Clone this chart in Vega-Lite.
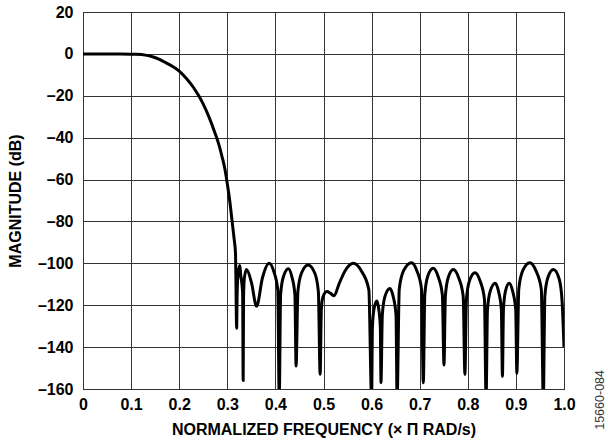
{
  "$schema": "https://vega.github.io/schema/vega-lite/v6.json",
  "width": 481,
  "height": 377,
  "autosize": {"type": "none"},
  "padding": {"left": 83, "top": 12, "right": 44, "bottom": 53},
  "background": "white",
  "title": {
    "text": "15660-084",
    "orient": "right",
    "anchor": "end",
    "frame": "group",
    "angle": 270,
    "align": "right",
    "baseline": "middle",
    "fontSize": 12.5,
    "fontWeight": "normal",
    "font": "Liberation Sans",
    "color": "#333333",
    "offset": 12,
    "dx": 19,
    "dy": 0
  },
  "config": {
    "view": {"stroke": "black", "strokeWidth": 1},
    "axis": {
      "labelFont": "Liberation Sans",
      "labelFontWeight": "bold",
      "labelFontSize": 16,
      "labelColor": "black",
      "titleFont": "Liberation Sans",
      "titleFontWeight": "bold",
      "titleFontSize": 16,
      "titleColor": "black",
      "gridColor": "#333333",
      "gridWidth": 1,
      "gridOpacity": 1,
      "tickSize": 0,
      "domain": false
    }
  },
  "data": {
    "values": [
      {"f": 0, "db": 0},
      {"f": 0.04, "db": 0},
      {"f": 0.08, "db": -0.05},
      {"f": 0.11, "db": -0.2},
      {"f": 0.13, "db": -0.6},
      {"f": 0.146, "db": -1.5},
      {"f": 0.16, "db": -2.7},
      {"f": 0.173, "db": -4.3},
      {"f": 0.187, "db": -6.1},
      {"f": 0.2, "db": -8.2},
      {"f": 0.215, "db": -11.7},
      {"f": 0.229, "db": -15.8},
      {"f": 0.24, "db": -19.8},
      {"f": 0.25, "db": -24},
      {"f": 0.262, "db": -30.2},
      {"f": 0.274, "db": -37.5},
      {"f": 0.282, "db": -43},
      {"f": 0.289, "db": -49},
      {"f": 0.295, "db": -55},
      {"f": 0.3, "db": -62},
      {"f": 0.305, "db": -70},
      {"f": 0.31, "db": -80},
      {"f": 0.314, "db": -88},
      {"f": 0.317, "db": -95},
      {"f": 0.3195, "db": -131},
      {"f": 0.3205, "db": -114},
      {"f": 0.3224, "db": -105},
      {"f": 0.326, "db": -101},
      {"f": 0.3277, "db": -105},
      {"f": 0.3319, "db": -114},
      {"f": 0.333, "db": -156},
      {"f": 0.3338, "db": -116},
      {"f": 0.3355, "db": -107},
      {"f": 0.34, "db": -103},
      {"f": 0.35, "db": -109},
      {"f": 0.361, "db": -120.5},
      {"f": 0.373, "db": -107},
      {"f": 0.387, "db": -100},
      {"f": 0.3965, "db": -103.8},
      {"f": 0.4049, "db": -112.6},
      {"f": 0.408, "db": -165},
      {"f": 0.4108, "db": -115},
      {"f": 0.4166, "db": -106.4},
      {"f": 0.427, "db": -102.6},
      {"f": 0.4342, "db": -106.4},
      {"f": 0.4406, "db": -115},
      {"f": 0.443, "db": -149},
      {"f": 0.4468, "db": -113.4},
      {"f": 0.4543, "db": -104.6},
      {"f": 0.468, "db": -100.8},
      {"f": 0.4818, "db": -104.6},
      {"f": 0.4893, "db": -113.4},
      {"f": 0.493, "db": -153},
      {"f": 0.4955, "db": -122},
      {"f": 0.499, "db": -116},
      {"f": 0.507, "db": -113.5},
      {"f": 0.514, "db": -114.2},
      {"f": 0.522, "db": -115.5},
      {"f": 0.532, "db": -110},
      {"f": 0.545, "db": -103.5},
      {"f": 0.562, "db": -100},
      {"f": 0.5791, "db": -103.8},
      {"f": 0.5943, "db": -112.6},
      {"f": 0.6, "db": -165},
      {"f": 0.6017, "db": -130.6},
      {"f": 0.605, "db": -121.8},
      {"f": 0.611, "db": -118},
      {"f": 0.6148, "db": -121.8},
      {"f": 0.6182, "db": -130.6},
      {"f": 0.6195, "db": -157},
      {"f": 0.6223, "db": -124.6},
      {"f": 0.6278, "db": -115.8},
      {"f": 0.638, "db": -112},
      {"f": 0.6448, "db": -115.8},
      {"f": 0.6508, "db": -124.6},
      {"f": 0.653, "db": -165},
      {"f": 0.6575, "db": -112.3},
      {"f": 0.6665, "db": -103.5},
      {"f": 0.683, "db": -99.7},
      {"f": 0.694, "db": -103.5},
      {"f": 0.7038, "db": -112.3},
      {"f": 0.7075, "db": -157},
      {"f": 0.7106, "db": -115},
      {"f": 0.7167, "db": -106.2},
      {"f": 0.728, "db": -102.4},
      {"f": 0.7381, "db": -106.2},
      {"f": 0.7471, "db": -115},
      {"f": 0.7505, "db": -148.5},
      {"f": 0.7534, "db": -115.6},
      {"f": 0.7593, "db": -106.8},
      {"f": 0.77, "db": -103},
      {"f": 0.7808, "db": -106.8},
      {"f": 0.7904, "db": -115.6},
      {"f": 0.794, "db": -153},
      {"f": 0.7972, "db": -117.1},
      {"f": 0.8035, "db": -108.3},
      {"f": 0.815, "db": -104.5},
      {"f": 0.8254, "db": -108.3},
      {"f": 0.8346, "db": -117.1},
      {"f": 0.838, "db": -165},
      {"f": 0.8409, "db": -122.1},
      {"f": 0.8466, "db": -113.3},
      {"f": 0.857, "db": -109.5},
      {"f": 0.8638, "db": -113.3},
      {"f": 0.8698, "db": -122.1},
      {"f": 0.872, "db": -154},
      {"f": 0.8741, "db": -122.1},
      {"f": 0.8783, "db": -113.3},
      {"f": 0.886, "db": -109.5},
      {"f": 0.8932, "db": -113.3},
      {"f": 0.8996, "db": -122.1},
      {"f": 0.902, "db": -152.5},
      {"f": 0.906, "db": -112.3},
      {"f": 0.9142, "db": -103.5},
      {"f": 0.929, "db": -99.7},
      {"f": 0.9416, "db": -103.5},
      {"f": 0.9528, "db": -112.3},
      {"f": 0.957, "db": -165},
      {"f": 0.9602, "db": -115.6},
      {"f": 0.9665, "db": -106.8},
      {"f": 0.978, "db": -103},
      {"f": 0.99, "db": -107.5},
      {"f": 0.996, "db": -118},
      {"f": 1.0, "db": -140}
    ]
  },
  "mark": {"type": "line", "color": "black", "strokeWidth": 3, "interpolate": "monotone", "clip": true, "strokeJoin": "round"},
  "encoding": {
    "x": {
      "field": "f",
      "type": "quantitative",
      "scale": {"domain": [0, 1], "nice": false, "zero": false},
      "axis": {
        "title": "NORMALIZED FREQUENCY (× Π RAD/s)",
        "values": [0, 0.1, 0.2, 0.3, 0.4, 0.5, 0.6, 0.7, 0.8, 0.9, 1.0],
        "labelExpr": "datum.value == 0 ? '0' : format(datum.value, '.1f')",
        "labelPadding": 7,
        "titlePadding": 9,
        "labelFlush": false
      }
    },
    "y": {
      "field": "db",
      "type": "quantitative",
      "scale": {"domain": [-160, 20], "nice": false, "zero": false},
      "axis": {
        "title": "MAGNITUDE (dB)",
        "values": [-160, -140, -120, -100, -80, -60, -40, -20, 0, 20],
        "labelExpr": "datum.value < 0 ? '–' + abs(datum.value) : '' + datum.value",
        "labelPadding": 10,
        "titlePadding": 14,
        "labelFlush": false
      }
    }
  }
}
